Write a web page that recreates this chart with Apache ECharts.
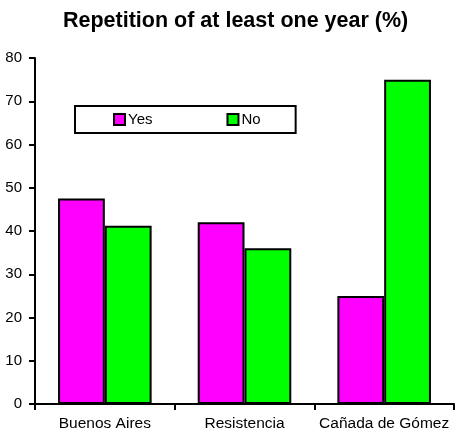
<!DOCTYPE html>
<html>
<head>
<meta charset="utf-8">
<script src="https://cdn.jsdelivr.net/npm/echarts@6/dist/echarts.min.js"></script>
<style>html,body{margin:0;padding:0;background:#fff;}#c{width:456px;height:435px;}</style>
</head>
<body>
<div id="c"></div>
<script>
const categories = ['Buenos Aires', 'Resistencia', 'Cañada de Gómez'];
const yesValues = [47.5, 42, 25];
const noValues = [41.2, 36, 75];
const seriesNames = ['Yes', 'No'];
const titleText = 'Repetition of at least one year (%)';

const chart = echarts.init(document.getElementById('c'));
const font = '"Liberation Sans", Arial, sans-serif';
chart.setOption({
  animation: false,
  backgroundColor: '#fff',
  title: {
    text: titleText,
    left: 58,
    top: 5,
    textStyle: { fontFamily: font, fontWeight: 'bold', fontSize: 21.5, color: '#000' }
  },
  legend: {
    data: seriesNames,
    left: 75,
    top: 106,
    orient: 'horizontal',
    itemWidth: 11,
    itemHeight: 11,
    itemGap: 74,
    icon: 'rect',
    padding: [6, 35, 6, 38],
    borderColor: '#000',
    borderWidth: 2,
    textStyle: { fontFamily: font, fontSize: 15, color: '#000', padding: [0, 0, 0, -2] }
  },
  grid: { left: 35, right: 2, top: 58, bottom: 31, containLabel: false },
  xAxis: {
    type: 'category',
    data: categories,
    axisLine: { lineStyle: { color: '#000', width: 2 } },
    axisTick: { show: true, length: 6, lineStyle: { color: '#000', width: 2 } },
    axisLabel: { fontFamily: font, fontSize: 15.5, color: '#000', margin: 12, interval: 0 }
  },
  yAxis: {
    type: 'value',
    min: 0,
    max: 80,
    interval: 10,
    splitLine: { show: false },
    axisLine: { show: true, lineStyle: { color: '#000', width: 2 } },
    axisTick: { show: true, length: 6, lineStyle: { color: '#000', width: 2 } },
    axisLabel: { fontFamily: font, fontSize: 15, color: '#000', margin: 13 }
  },
  series: [
    { name: seriesNames[0], type: 'bar', data: yesValues, barGap: '0%', barCategoryGap: '33%',
      itemStyle: { color: '#FF00FF', borderColor: '#000', borderWidth: 2 } },
    { name: seriesNames[1], type: 'bar', data: noValues,
      itemStyle: { color: '#00FF00', borderColor: '#000', borderWidth: 2 } }
  ]
});
</script>
</body>
</html>
